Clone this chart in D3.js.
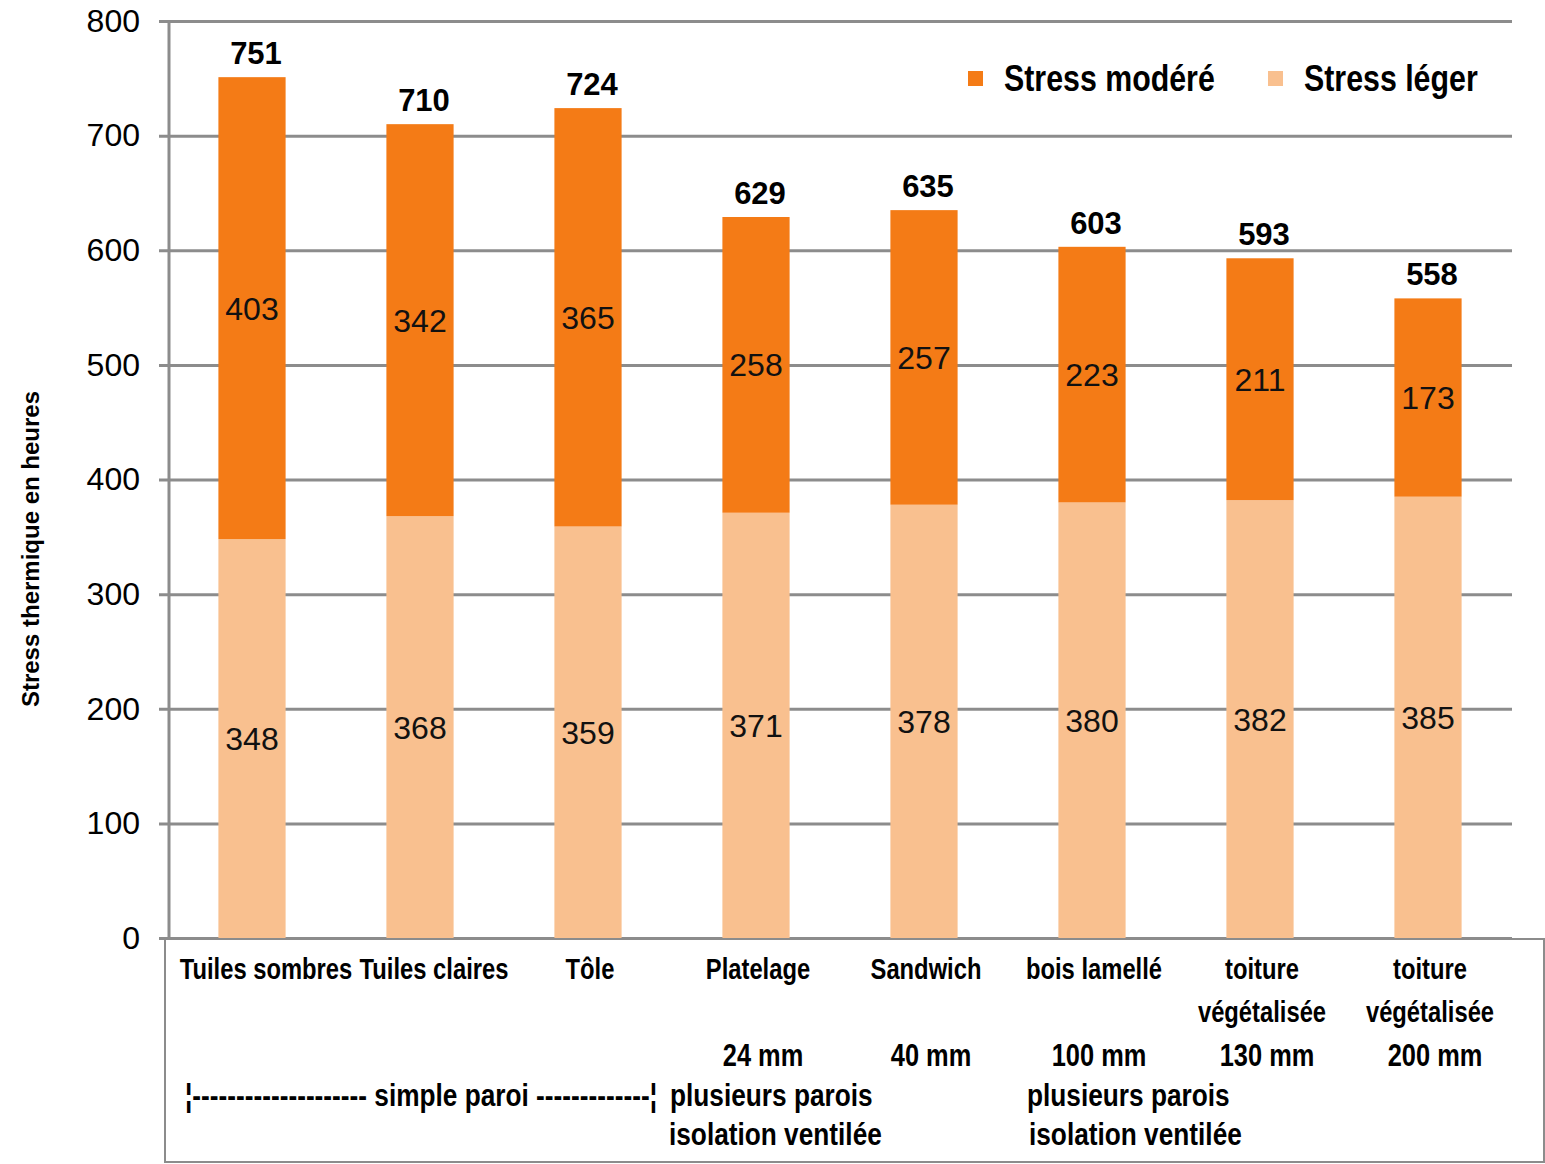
<!DOCTYPE html>
<html>
<head>
<meta charset="utf-8">
<script src="https://cdn.jsdelivr.net/npm/d3@7"></script>
<style>
  body { margin: 0; background: #fff; }
  svg { display: block; }
</style>
</head>
<body>
<div id="chart"></div>
<script>
'use strict';

// data
const categories = ["Tuiles sombres", "Tuiles claires", "Tôle", "Platelage", "Sandwich", "bois lamellé", "toiture", "toiture"];
const categoryLine2 = ["", "", "", "", "", "", "végétalisée", "végétalisée"];
const thickness = ["", "", "", "24 mm", "40 mm", "100 mm", "130 mm", "200 mm"];
const stressLeger = [348, 368, 359, 371, 378, 380, 382, 385];
const stressModere = [403, 342, 365, 258, 257, 223, 211, 173];
const yTicks = [0, 100, 200, 300, 400, 500, 600, 700, 800];
const seriesNames = ["Stress modéré", "Stress léger"];
const colors = { modere: "#F47B16", leger: "#F9C08F", grid: "#8C8C8C" };

const W = 1545, H = 1164;
const margin = { top: 21, right: 33, bottom: 226, left: 168 };
const width = W - margin.left - margin.right;
const height = H - margin.top - margin.bottom;
const NARROW = 0.82; // no Arial Narrow installed -> squeeze Liberation Sans Bold

let svg = d3.select("#chart").append("svg")
    .attr("width", W)
    .attr("height", H)
    .style("font-family", "'Liberation Sans', Arial, sans-serif");

// condensed bold text helper
function narrowText(parent, tx, ty, txt, anchor, size) {
    let t = parent.append("g")
        .attr("transform", "translate(" + tx + "," + ty + ") scale(" + NARROW + ",1)")
        .append("text")
        .attr("text-anchor", anchor || "start")
        .attr("font-size", size + "px")
        .attr("font-weight", "bold")
        .attr("fill", "#000")
        .text(txt);
    return t;
}

let g = svg.append("g").attr("transform", "translate(" + margin.left + "," + margin.top + ")");

let x = d3.scaleBand().domain(d3.range(categories.length)).range([0, width]).paddingInner(0.6).paddingOuter(0.3);
let y = d3.scaleLinear().domain([0, 800]).range([height, 0]);

// gridlines + y axis
let yAxis = g.append("g")
    .attr("transform", "translate(-9,0)")
    .call(d3.axisLeft(y).tickValues(yTicks).tickSize(0).tickPadding(19).tickFormat(d3.format("d")));
yAxis.select(".domain").remove();
yAxis.selectAll(".tick line")
    .attr("x1", 0).attr("x2", width + 9)
    .attr("stroke", colors.grid).attr("stroke-width", 3);
yAxis.selectAll(".tick text").attr("font-size", "32px").attr("fill", "#000")
    .attr("font-family", "'Liberation Sans', Arial, sans-serif");

g.append("line")
    .attr("x1", 1).attr("x2", 1)
    .attr("y1", 0).attr("y2", height)
    .attr("stroke", colors.grid).attr("stroke-width", 3);

// stacked bars
let stackData = categories.map((c, i) => ({ i: i, leger: stressLeger[i], modere: stressModere[i] }));
let stack = d3.stack().keys(["leger", "modere"])(stackData);

let layers = g.selectAll(".layer")
    .data(stack)
    .enter().append("g")
    .attr("class", "layer")
    .attr("fill", d => colors[d.key]);

layers.selectAll("rect")
    .data(d => d)
    .enter().append("rect")
    .attr("x", d => x(d.data.i))
    .attr("width", x.bandwidth())
    .attr("y", d => y(d[1]))
    .attr("height", d => y(d[0]) - y(d[1]));

// segment labels
layers.selectAll(".seglabel")
    .data(d => d)
    .enter().append("text")
    .attr("x", d => x(d.data.i) + x.bandwidth() / 2)
    .attr("y", d => y((d[0] + d[1]) / 2))
    .attr("dy", "0.36em")
    .attr("text-anchor", "middle")
    .attr("font-size", "32px")
    .attr("fill", "#111")
    .text(d => d[1] - d[0]);

// totals
g.selectAll(".total")
    .data(stackData)
    .enter().append("text")
    .attr("x", d => x(d.i) + x.bandwidth() / 2 + 4)
    .attr("y", d => y(d.leger + d.modere) - 13)
    .attr("text-anchor", "middle")
    .attr("font-size", "31px")
    .attr("font-weight", "bold")
    .attr("fill", "#000")
    .text(d => d.leger + d.modere);

// legend
let legend = svg.append("g").attr("transform", "translate(968,79)");
let legendItems = [
    { name: seriesNames[0], color: colors.modere, dx: 0 },
    { name: seriesNames[1], color: colors.leger, dx: 300 }
];
legendItems.forEach(d => {
    legend.append("rect").attr("x", d.dx).attr("y", -8).attr("width", 15).attr("height", 15).attr("fill", d.color);
    narrowText(legend, d.dx + 36, 12, d.name, "start", 37);
});

// y axis title
svg.append("text")
    .attr("transform", "translate(39," + (margin.top + 528) + ") rotate(-90)")
    .attr("text-anchor", "middle")
    .attr("font-size", "24px")
    .attr("font-weight", "bold")
    .attr("fill", "#000")
    .text("Stress thermique en heures");

// table below the plot
svg.append("rect")
    .attr("x", 165).attr("y", 939)
    .attr("width", W - 166).attr("height", 223)
    .attr("fill", "none")
    .attr("stroke", colors.grid).attr("stroke-width", 2);

let table = svg.append("g");
let rows = [
    { vals: categories, y: 979, size: 29, dx: 2 },
    { vals: categoryLine2, y: 1022, size: 29, dx: 2 },
    { vals: thickness, y: 1066, size: 31, dx: 7 }
];
rows.forEach(r => {
    r.vals.forEach((d, i) => {
        if (d) narrowText(table, margin.left + x(i) + x.bandwidth() / 2 + (i < 2 ? 14 : r.dx), r.y, d, "middle", r.size);
    });
});

narrowText(table, 185, 1106, "¦" + "-".repeat(20) + " simple paroi " + "-".repeat(13) + "¦", "start", 32);
narrowText(table, 670, 1106, "plusieurs parois", "start", 32);
narrowText(table, 669, 1145, "isolation ventilée", "start", 32);
narrowText(table, 1027, 1106, "plusieurs parois", "start", 32);
narrowText(table, 1029, 1145, "isolation ventilée", "start", 32);
</script>
</body>
</html>
